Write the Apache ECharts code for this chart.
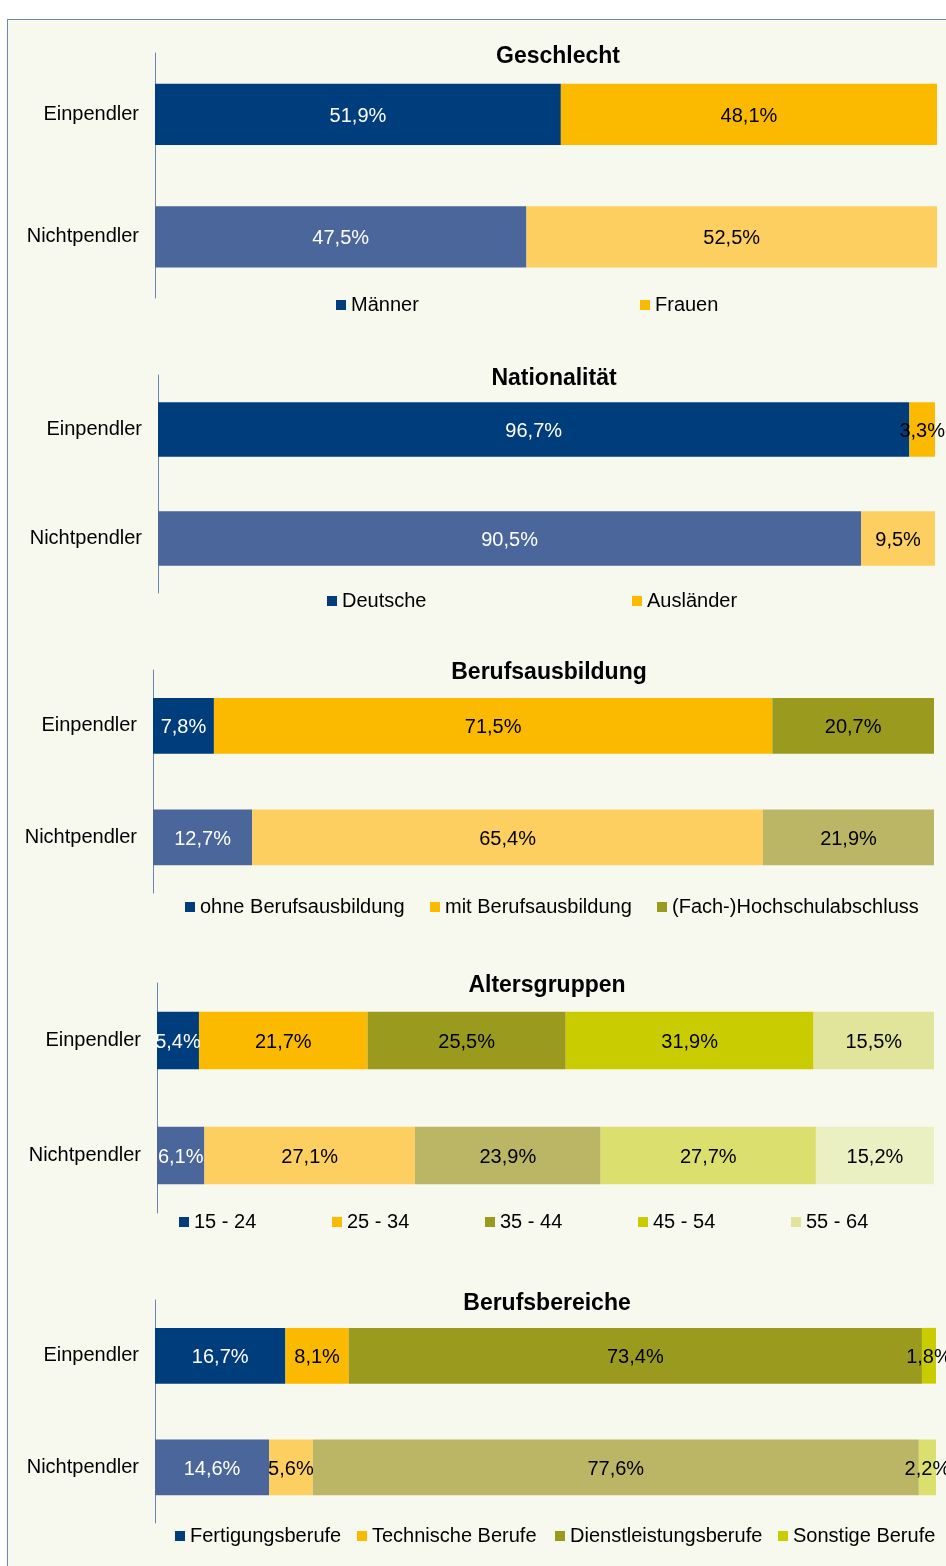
<!DOCTYPE html>
<html lang="de">
<head>
    <meta charset="utf-8">
    <title>Einpendler und Nichtpendler</title>
    <script src="https://cdn.jsdelivr.net/npm/echarts@6/dist/echarts.min.js"></script>
    <style>
        html, body { margin: 0; padding: 0; overflow: hidden; background: #fff; }
        #frame { position: absolute; left: 7px; top: 19px; width: 980px; height: 1600px;
                 border: 1px solid #6a86c0; background: #f8f9ee; }
        #chart { position: absolute; left: 0; top: 0; width: 946px; height: 1566px; }
    </style>
</head>
<body>
    <div id="frame"></div>
    <div id="chart"></div>

    <script type="text/javascript">
        // data
        var categories = ['Einpendler', 'Nichtpendler'];
        var panelTitles = ['Geschlecht', 'Nationalität', 'Berufsausbildung', 'Altersgruppen', 'Berufsbereiche'];

        var geschlechtNames = ['Männer', 'Frauen'];
        var geschlechtValues = [[51.9, 47.5], [48.1, 52.5]];

        var nationNames = ['Deutsche', 'Ausländer'];
        var nationValues = [[96.7, 90.5], [3.3, 9.5]];

        var ausbildungNames = ['ohne Berufsausbildung', 'mit Berufsausbildung', '(Fach-)Hochschulabschluss'];
        var ausbildungValues = [[7.8, 12.7], [71.5, 65.4], [20.7, 21.9]];

        var alterNames = ['15 - 24', '25 - 34', '35 - 44', '45 - 54', '55 - 64'];
        var alterValues = [[5.4, 6.1], [21.7, 27.1], [25.5, 23.9], [31.9, 27.7], [15.5, 15.2]];

        var berufNames = ['Fertigungsberufe', 'Technische Berufe', 'Dienstleistungsberufe', 'Sonstige Berufe'];
        var berufValues = [[16.7, 14.6], [8.1, 5.6], [73.4, 77.6], [1.8, 2.2]];

        // colours: [Einpendler, Nichtpendler]
        var navy = ['#003d7c', '#4a669b'];
        var orange = ['#fbba00', '#fdcf61'];
        var olive = ['#999a1e', '#bbb666'];
        var lime = ['#c9cc00', '#dadf6e'];
        var pale = ['#e1e49b', '#ebf0c2'];

        var panels = [
            { names: geschlechtNames, values: geschlechtValues, colors: [navy, orange],
              grid: { left: 155, right: 9, top: 53, height: 245 }, titleX: 558, titleY: 45,
              legendY: 295, legendX: [336, 640] },
            { names: nationNames, values: nationValues, colors: [navy, orange],
              grid: { left: 158, right: 11, top: 375, height: 218 }, titleX: 554, titleY: 367,
              legendY: 591, legendX: [327, 632] },
            { names: ausbildungNames, values: ausbildungValues, colors: [navy, orange, olive],
              grid: { left: 153, right: 12, top: 670, height: 223 }, titleX: 549, titleY: 661,
              legendY: 897, legendX: [185, 430, 657] },
            { names: alterNames, values: alterValues, colors: [navy, orange, olive, lime, pale],
              grid: { left: 157, right: 12, top: 983, height: 230 }, titleX: 547, titleY: 974,
              legendY: 1212, legendX: [179, 332, 485, 638, 791] },
            { names: berufNames, values: berufValues, colors: [navy, orange, olive, lime],
              grid: { left: 155, right: 10, top: 1300, height: 223 }, titleX: 547, titleY: 1292,
              legendY: 1526, legendX: [175, 357, 555, 778] }
        ];

        var font = "'Liberation Sans', Arial, sans-serif";
        var fmt = function (p) { return p.value.toFixed(1).replace('.', ',') + '%'; };

        var option = { animation: false, title: [], grid: [], xAxis: [], yAxis: [], legend: [], series: [] };

        panels.forEach(function (p, i) {
            option.title.push({
                text: panelTitles[i], left: p.titleX, top: p.titleY, textAlign: 'center', padding: 0,
                textStyle: { fontFamily: font, fontSize: 23, fontWeight: 'bold', color: '#000' }
            });
            option.grid.push(p.grid);
            option.xAxis.push({ type: 'value', gridIndex: i, min: 0, max: 100, show: false });
            option.yAxis.push({
                type: 'category', gridIndex: i, data: categories, inverse: true,
                axisLine: { show: true, lineStyle: { color: '#6a84bb', width: 1 } },
                axisTick: { show: false },
                axisLabel: { margin: 16, fontFamily: font, fontSize: 20, color: '#000' }
            });
            p.names.forEach(function (name, k) {
                var c = p.colors[k];
                option.series.push({
                    name: name, type: 'bar', stack: 'p' + i, xAxisIndex: i, yAxisIndex: i,
                    barCategoryGap: '50%',
                    itemStyle: { color: c[0] },
                    data: p.values[k].map(function (v, j) { return { value: v, itemStyle: { color: c[j] } }; }),
                    label: {
                        show: true, position: 'inside', formatter: fmt, offset: [0, 2],
                        fontFamily: font, fontSize: 20, color: k === 0 ? '#fff' : '#000'
                    }
                });
                option.legend.push({
                    data: [name], left: p.legendX[k], top: p.legendY, padding: 0,
                    icon: 'rect', itemWidth: 10, itemHeight: 10, selectedMode: false,
                    textStyle: { fontFamily: font, fontSize: 20, color: '#000' }
                });
            });
        });

        var myChart = echarts.init(document.getElementById('chart'));
        myChart.setOption(option);
    </script>
</body>
</html>
